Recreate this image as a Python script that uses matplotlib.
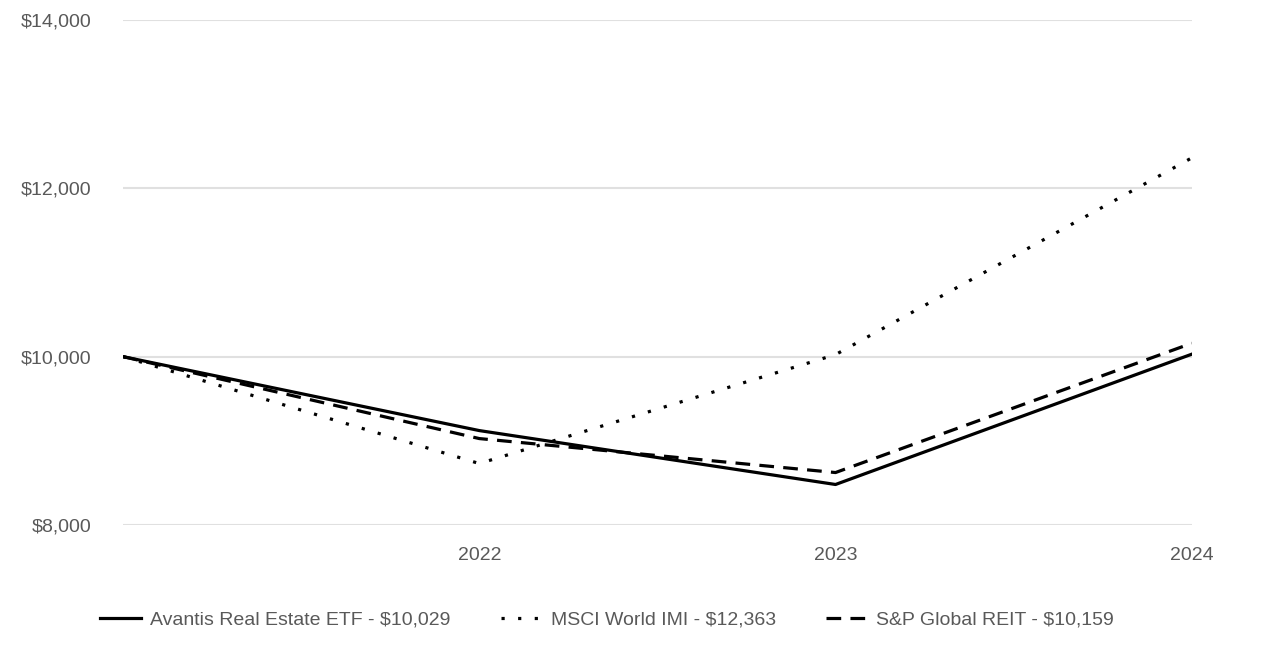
import matplotlib.pyplot as plt
from matplotlib.ticker import FuncFormatter

# DATA
x_labels = ['', '2022', '2023', '2024']
avantis = [10000, 9121, 8480, 10029]
msci = [10000, 8729, 10024, 12363]
sp_reit = [10000, 9026, 8622, 10159]

plt.rcParams['font.family'] = ['Liberation Sans', 'DejaVu Sans']

fig = plt.figure(figsize=(12.86, 6.52), dpi=100)
ax = fig.add_axes([0.0957, 0.195, 0.831, 0.774])

x = range(len(x_labels))
ax.plot(x, avantis, color='black', lw=2.3, ls='-', label='Avantis Real Estate ETF - $10,029')
ax.plot(x, msci, color='black', lw=2.3, ls=(0, (1, 4.2)), dash_capstyle='butt',
        label='MSCI World IMI - $12,363')
ax.plot(x, sp_reit, color='black', lw=2.3, ls=(0, (4.6, 2.9)), dash_capstyle='butt',
        label='S&P Global REIT - $10,159')

ax.set_xlim(0, 3)
ax.set_ylim(8000, 14000)
ax.set_yticks([8000, 10000, 12000, 14000])
ax.yaxis.set_major_formatter(FuncFormatter(lambda v, p: '${:,.0f}'.format(v)))
ax.set_xticks(list(x))
ax.set_xticklabels(x_labels)
ax.grid(axis='y', color='#e0e0e0', lw=1.5)
ax.set_axisbelow(True)
for s in ax.spines.values():
    s.set_visible(False)
ax.tick_params(axis='both', length=0, labelsize=14, colors='#595959')
ax.tick_params(axis='y', pad=23)
ax.tick_params(axis='x', pad=16)

leg = fig.legend(loc='center', bbox_to_anchor=(0.472, 0.049), ncol=3, frameon=False,
                 fontsize=14, handlelength=2.1, columnspacing=2.6, handletextpad=0.45)
for t in leg.get_texts():
    t.set_color('#595959')

fig.savefig('out.png', dpi=100)
